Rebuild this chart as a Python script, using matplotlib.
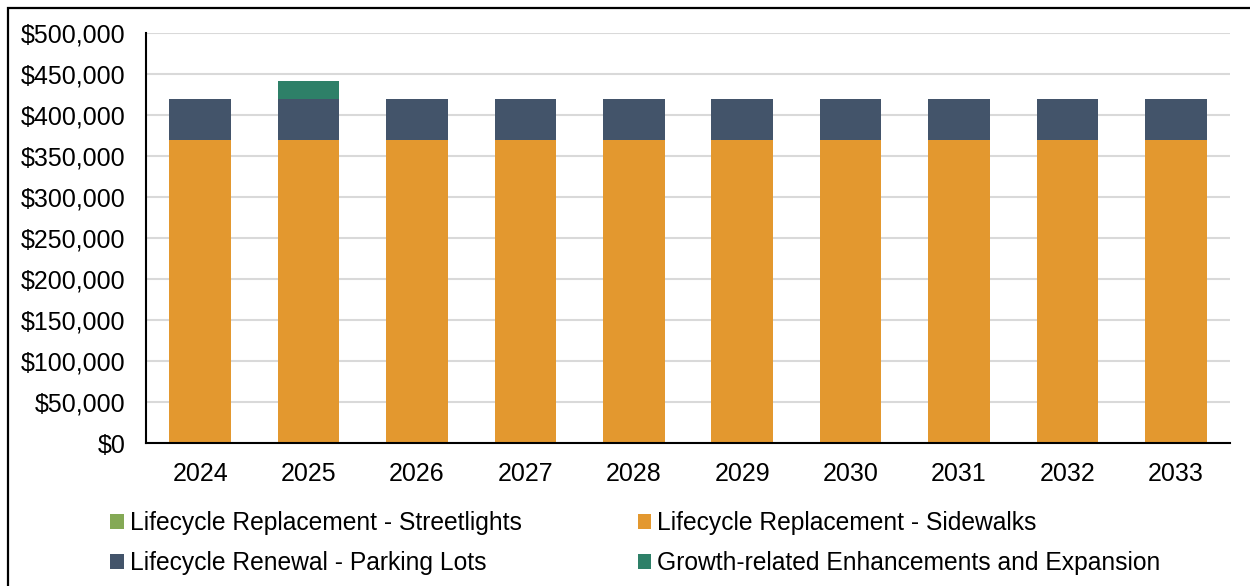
import matplotlib
matplotlib.use("Agg")
import matplotlib.pyplot as plt
from matplotlib.patches import Patch, Rectangle
from matplotlib.ticker import FuncFormatter, MultipleLocator
import numpy as np

plt.rcParams['font.family'] = ['Liberation Sans', 'DejaVu Sans']

years = ["2024", "2025", "2026", "2027", "2028", "2029", "2030", "2031", "2032", "2033"]
streetlights = [0, 0, 0, 0, 0, 0, 0, 0, 0, 0]
sidewalks = [370000] * 10
parking_lots = [50000] * 10
growth = [0, 21000, 0, 0, 0, 0, 0, 0, 0, 0]

series = [
    ("Lifecycle Replacement - Streetlights", streetlights, "#84A955"),
    ("Lifecycle Replacement - Sidewalks", sidewalks, "#E3982F"),
    ("Lifecycle Renewal - Parking Lots", parking_lots, "#43546A"),
    ("Growth-related Enhancements and Expansion", growth, "#2E8068"),
]

fig = plt.figure(figsize=(12.5, 5.86), dpi=100)
ax = fig.add_axes([0.1168, 0.244, 0.8672, 0.6996])

x = np.arange(len(years))
bottom = np.zeros(len(years))
for name, vals, color in series:
    v = np.array(vals, dtype=float)
    ax.bar(x, v, bottom=bottom, width=0.57, color=color, zorder=3, linewidth=0)
    bottom += v

ax.set_xlim(-0.5, len(years) - 0.5)
ax.set_ylim(0, 500000)
ax.yaxis.set_major_locator(MultipleLocator(50000))
ax.yaxis.set_major_formatter(FuncFormatter(lambda v, p: f"${v:,.0f}"))
ax.set_xticks(x)
ax.set_xticklabels(years)
ax.tick_params(axis='both', length=0, labelsize=18, colors='black')
ax.tick_params(axis='y', pad=15)
ax.tick_params(axis='x', pad=14)
ax.grid(axis='y', color='#D9D9D9', linewidth=1.5, zorder=0)
for s in ['top', 'right']:
    ax.spines[s].set_visible(False)
for s in ['left', 'bottom']:
    ax.spines[s].set_color('black')
    ax.spines[s].set_linewidth(1.5)
    ax.spines[s].set_zorder(4)

handles = [Patch(facecolor=c, edgecolor='none') for _, _, c in series]
labels = [n for n, _, _ in series]
order = [0, 2, 1, 3]
fig.legend([handles[i] for i in order], [labels[i] for i in order],
           ncol=2, loc='upper left', bbox_to_anchor=(0.088, 0.128),
           frameon=False, fontsize=17.7, handlelength=0.55, handleheight=0.55,
           handletextpad=0.25, columnspacing=4.72, labelspacing=0.66,
           borderaxespad=0, borderpad=0)

fig.patches.append(Rectangle((8 / 1250, -0.2), 1.2, 1.2 - 8 / 586,
                             transform=fig.transFigure, fill=False,
                             edgecolor='black', linewidth=1.6, zorder=10))

fig.savefig("out.png", dpi=100)
